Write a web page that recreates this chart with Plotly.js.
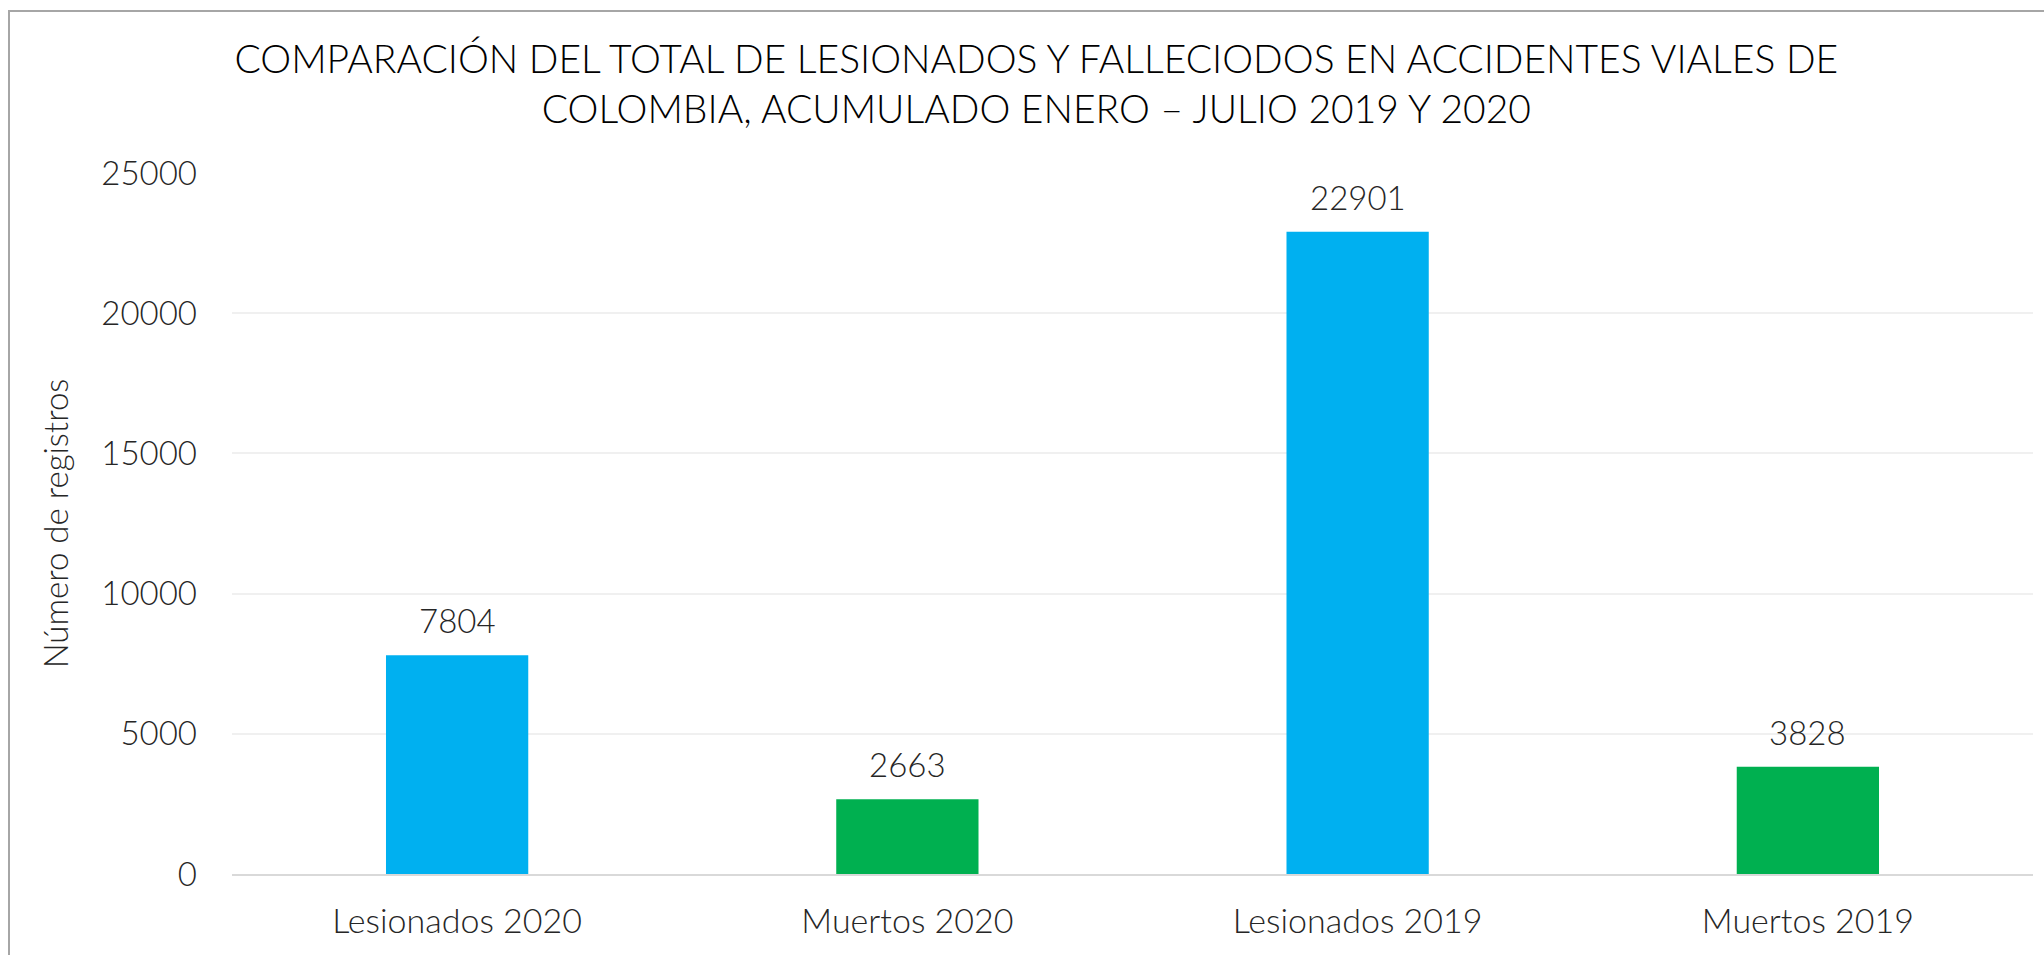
<!DOCTYPE html>
<html>
<head>
<meta charset="utf-8">
<script src="https://cdn.plot.ly/plotly-3.0.1.min.js"></script>
<style>
  html, body { margin: 0; padding: 0; background: #ffffff; overflow: hidden; }
  #chart { position: absolute; left: 0; top: 0; width: 2044px; height: 955px; }
  #frame { position: absolute; left: 8px; top: 10px; width: 2100px; height: 1000px;
           border-left: 2px solid #a6a6a6; border-top: 2px solid #a6a6a6; pointer-events: none; }
</style>
</head>
<body>
<div id="chart"></div>
<div id="frame"></div>
<script>
const categories = ["Lesionados 2020", "Muertos 2020", "Lesionados 2019", "Muertos 2019"];
const values = [7804, 2663, 22901, 3828];
const barColors = ["#00b0f0", "#00b050", "#00b0f0", "#00b050"];
const yTicks = [0, 5000, 10000, 15000, 20000, 25000];
const titleText = "COMPARACIÓN DEL TOTAL DE LESIONADOS Y FALLECIODOS EN ACCIDENTES VIALES DE<br>COLOMBIA, ACUMULADO ENERO – JULIO 2019 Y 2020";
const yTitle = "Número de registros";

const FONT = "Lato, 'Open Sans', 'Liberation Sans', sans-serif";

const trace = {
  type: "bar",
  x: categories,
  y: values,
  marker: { color: barColors },
  hoverinfo: "x+y",
  showlegend: false
};

const annotations = categories.map((c, i) => ({
  x: c, y: values[i], xref: "x", yref: "y",
  text: String(values[i]),
  showarrow: false, yanchor: "bottom", yshift: 13,
  font: { family: FONT, size: 33, color: "#262626", weight: 300 }
}));

const layout = {
  width: 2044, height: 955,
  margin: { l: 232, r: 11, t: 173, b: 81 },
  paper_bgcolor: "rgba(0,0,0,0)",
  plot_bgcolor: "#ffffff",
  bargap: 0.684,
  title: {
    text: titleText,
    x: 0.507, xanchor: "center",
    y: 0.924, yanchor: "middle",
    font: { family: FONT, size: 39, color: "#000000", weight: 300 }
  },
  xaxis: {
    type: "category",
    showgrid: false,
    showline: true, linecolor: "#d9d9d9", linewidth: 2,
    ticks: "",
    tickfont: { family: FONT, size: 34, color: "#262626", weight: 300 },
    ticklabelstandoff: 16,
    zeroline: false
  },
  yaxis: {
    range: [0, 25000],
    tickvals: yTicks,
    ticktext: yTicks.map(String),
    showgrid: true, gridcolor: "#f0f0f0", gridwidth: 2,
    zeroline: false,
    showline: false,
    ticks: "",
    tickfont: { family: FONT, size: 33, color: "#262626", weight: 300 },
    ticklabelstandoff: 34,
    title: {
      text: yTitle,
      font: { family: FONT, size: 33, color: "#262626", weight: 300 },
      standoff: 22
    }
  },
  annotations: annotations,
  font: { family: FONT }
};

Plotly.newPlot("chart", [trace], layout, { staticPlot: true, displayModeBar: false });
</script>
</body>
</html>
